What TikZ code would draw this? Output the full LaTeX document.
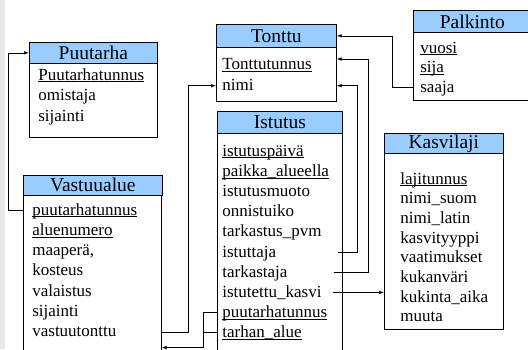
\documentclass[tikz,border=0pt]{standalone}
\usepackage{fontspec}
\setmainfont{LiberationSerif}[Extension=.ttf, UprightFont=*-Regular, BoldFont=*-Bold]
\usetikzlibrary{arrows.meta,calc}
\definecolor{headblue}{HTML}{99CCFF}
\definecolor{stripgray}{HTML}{E8E8E8}
\newcommand\headfont{\rmfamily\fontsize{19.5}{22}\selectfont}
\newcommand\attrfont{\rmfamily\fontsize{17}{20}\selectfont}
\newsavebox\keybox
\newcommand\keyattr[1]{\sbox\keybox{#1}\rlap{\rule[-2.2pt]{\wd\keybox}{0.9pt}}\usebox\keybox}
\tikzset{
  head/.style={draw, fill=headblue, anchor=north west, inner sep=0pt, font=\headfont},
  body/.style={draw, fill=white, anchor=north west, inner sep=0pt},
  attr/.style={anchor=base west, inner sep=0pt, font=\attrfont, text height=13pt, text depth=3pt},
  link/.style={-{Latex[length=5pt,width=3.5pt]}, line width=0.6pt}
}

\begin{document}
\begin{tikzpicture}[x=1pt, y=-1pt, line width=0.7pt]
  \useasboundingbox (0,0) rectangle (528,349);
  \fill[stripgray] (0,0) rectangle (5,349);

  % Puutarha
  \node[body, minimum width=128pt, minimum height=74pt] (puutarhabox) at (29,63) {};
  \node[head, minimum width=128pt, minimum height=21pt] (puutarha) at (29,42) {Puutarha};
  \foreach \t [count=\i] in {\keyattr{Puutarhatunnus}, omistaja, sijainti}
    \node[attr] (pt-\i) at (38, 59.5+20.5*\i) {\t};

  % Tonttu
  \node[body, minimum width=120pt, minimum height=54pt] (tonttubox) at (216,47) {};
  \node[head, minimum width=120pt, minimum height=23pt] (tonttu) at (216,24) {Tonttu};
  \foreach \t [count=\i] in {\keyattr{Tonttutunnus}, nimi}
    \node[attr] (to-\i) at (222, 48.3+21.2*\i) {\t};

  % Palkinto
  \node[body, minimum width=130pt, minimum height=68pt] (palkintobox) at (413,32) {};
  \node[head, minimum width=130pt, minimum height=22pt] (palkinto) at (413,10) {\hspace*{-12pt}Palkinto};
  \foreach \t [count=\i] in {\keyattr{vuosi}, \keyattr{sija}, saaja}
    \node[attr] (pa-\i) at (420, 33.5+19.5*\i) {\t};

  % Vastuualue
  \node[body, minimum width=138pt, minimum height=170pt] (vastbox) at (23,195) {};
  \node[head, minimum width=139pt, minimum height=20pt] (vastuualue) at (23,175) {Vastuualue};
  \foreach \t [count=\i] in {\keyattr{puutarhatunnus}, \keyattr{aluenumero}, {maaperä,}, kosteus, valaistus, sijainti, vastuutonttu}
    \node[attr] (va-\i) at (32, 194.7+20.3*\i) {\t};

  % Istutus
  \node[body, minimum width=125pt, minimum height=230pt] (istutusbox) at (217,133) {};
  \node[head, minimum width=125pt, minimum height=22pt] (istutus) at (217,111) {Istutus};
  \foreach \t [count=\i] in {\keyattr{istutuspäivä}, \keyattr{paikka\_alueella}, istutusmuoto, onnistuiko,
      tarkastus\_pvm, istuttaja, tarkastaja, istutettu\_kasvi, \keyattr{puutarhatunnus}, \keyattr{tarhan\_alue}}
    \node[attr] (is-\i) at (222, 135.8+20.2*\i) {\t};

  % Kasvilaji
  \node[body, minimum width=119pt, minimum height=177pt] (kasvibox) at (384,152) {};
  \node[head, minimum width=119pt, minimum height=20pt] (kasvilaji) at (384,133) {Kasvilaji};
  \foreach \t [count=\i] in {\keyattr{lajitunnus}, nimi\_suom, nimi\_latin, kasvityyppi, vaatimukset,
      kukanväri, kukinta\_aika, muuta}
    \node[attr] (ka-\i) at (400, 164.3+19.7*\i) {\t};

  % Links
  \draw[link] (va-1.west -| vastbox.west) -- ++(-15,0) |- (puutarha.west);
  \draw[link] (va-7.west -| vastbox.east) -- ++(27,0) |- (to-2.west -| tonttubox.west);
  \draw (is-9.west -| istutusbox.west) -- ++(-14,0) coordinate (tarha-j) |- (is-10.west -| istutusbox.west);
  \draw[link] (tarha-j) -- ++(0,35) coordinate (tarha-k) -- (tarha-k -| vastbox.east);
  \draw[link] ($(istutusbox.east |- is-6.west)+(-5,0)$) -- ++(20,0) |- (to-2.west -| tonttubox.east);
  \coordinate (tonttu-in) at ($(tonttubox.north east)+(0,12)$);
  \draw[link] ($(istutusbox.east |- is-7.west)+(-9,0)$) -- ++(35,0) |- (tonttu-in);
  \draw[link] ($(istutusbox.east |- is-8.west)+(-10,0)$) -- (is-8.west -| kasvibox.west);
  \draw[link] (pa-3.west -| palkintobox.west) -- ++(-21,0) |- (tonttu.east);
\end{tikzpicture}
\end{document}
